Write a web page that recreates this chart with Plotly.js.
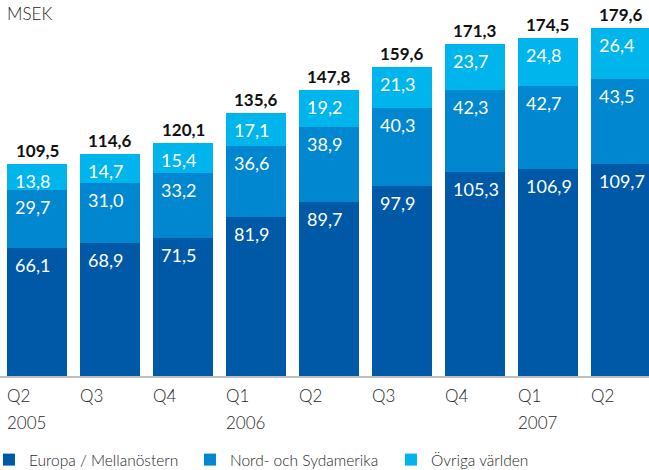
<!DOCTYPE html>
<html>
<head>
<meta charset="utf-8">
<script src="https://cdn.plot.ly/plotly-3.0.1.min.js"></script>
<style>html,body{margin:0;padding:0;background:#fff;}#chart{width:649px;height:470px;}</style>
</head>
<body>
<div id="chart"></div>
<script>
const quarters = ["Q2","Q3","Q4","Q1","Q2","Q3","Q4","Q1","Q2"];
const years = ["2005","","","2006","","","","2007",""];
const europa = [66.1,68.9,71.5,81.9,89.7,97.9,105.3,106.9,109.7];
const amerika = [29.7,31.0,33.2,36.6,38.9,40.3,42.3,42.7,43.5];
const ovriga = [13.8,14.7,15.4,17.1,19.2,21.3,23.7,24.8,26.4];
const totals = [109.5,114.6,120.1,135.6,147.8,159.6,171.3,174.5,179.6];
const seriesNames = ["Europa / Mellanöstern","Nord- och Sydamerika","Övriga världen"];
const colors = ["#0059a6","#0087cf","#00b4ec"];

const FONT = "Lato, 'Open Sans', sans-serif";
const fmt = v => v.toFixed(1).replace(".", ",");
const xs = quarters.map((_, i) => i);
const BW = 0.82;

const data = [europa, amerika, ovriga].map((vals, k) => ({
  type: "bar", x: xs, y: vals, name: seriesNames[k],
  marker: {color: colors[k], line: {width: 0}}, width: BW,
  hoverinfo: "skip"
}));

const annotations = [];
const stacks = [europa, amerika, ovriga];
xs.forEach(i => {
  let cum = 0;
  stacks.forEach(s => {
    cum += s[i];
    annotations.push({x: i - BW/2, y: cum, xref: "x", yref: "y", text: fmt(s[i]),
      showarrow: false, xanchor: "left", yanchor: "top", xshift: 6, yshift: -4,
      font: {family: FONT, size: 18, color: "#ffffff", weight: 400}});
  });
  annotations.push({x: i, y: totals[i], xref: "x", yref: "y", text: fmt(totals[i]),
    showarrow: false, xanchor: "center", yanchor: "bottom", yshift: 1,
    font: {family: FONT, size: 17, color: "#111111", weight: 700}});
  annotations.push({x: i - BW/2, y: 0, xref: "x", yref: "paper", text: quarters[i],
    showarrow: false, xanchor: "left", yanchor: "top", yshift: -7, xshift: -2,
    font: {family: FONT, size: 17, color: "#262626", weight: 300}});
  if (years[i]) annotations.push({x: i - BW/2, y: 0, xref: "x", yref: "paper", text: years[i],
    showarrow: false, xanchor: "left", yanchor: "top", yshift: -34, xshift: -2,
    font: {family: FONT, size: 17, color: "#262626", weight: 300}});
});
annotations.push({x: 0, y: 1, xref: "paper", yref: "paper", text: "MSEK", showarrow: false,
  xanchor: "left", yanchor: "bottom", xshift: 5, yshift: -6,
  font: {family: FONT, size: 17, color: "#262626", weight: 300}});

const layout = {
  width: 649, height: 470,
  margin: {l: 0, r: 0, t: 20, b: 94, autoexpand: false},
  barmode: "stack",
  paper_bgcolor: "#fff", plot_bgcolor: "#fff",
  showlegend: true,
  legend: {orientation: "h", x: -0.017, xanchor: "left", y: -0.236, yanchor: "middle",
    entrywidthmode: "pixels", entrywidth: 156, traceorder: "normal",
    font: {family: FONT, size: 15.5, color: "#262626", weight: 300}},
  xaxis: {range: [-0.507, 8.384], showticklabels: false, showgrid: false, zeroline: false,
    showline: true, linecolor: "#bdbdbd", linewidth: 2, ticks: "", fixedrange: true},
  yaxis: {range: [0, 183.8], showticklabels: false, showgrid: false, zeroline: false,
    showline: false, ticks: "", fixedrange: true},
  annotations: annotations
};
Plotly.newPlot("chart", data, layout, {displayModeBar: false, staticPlot: true});
</script>
</body>
</html>
